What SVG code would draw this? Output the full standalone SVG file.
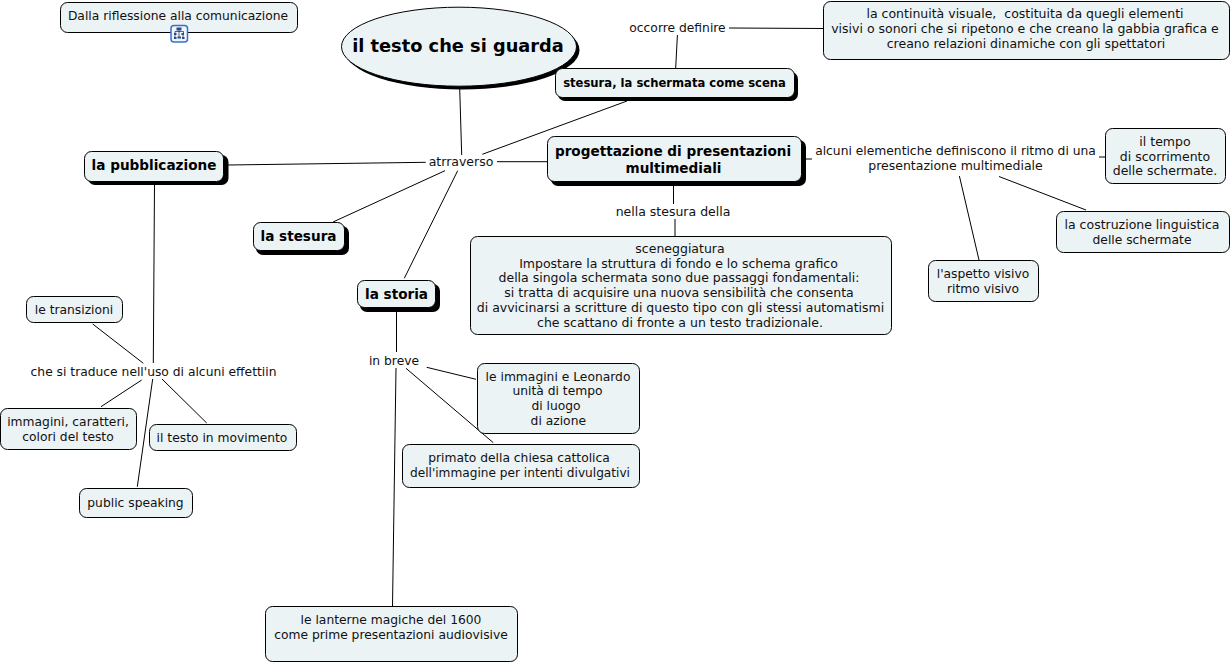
<svg xmlns="http://www.w3.org/2000/svg" width="1230" height="664" viewBox="0 0 1230 664">
<style>
text{font-family:"DejaVu Sans",sans-serif;font-size:12.3px;fill:#111;text-anchor:middle}
.w{font-size:12.5px}
.b{font-weight:bold;font-size:13.6px;fill:#000}
.n{fill:#ecf3f5;stroke:#000;stroke-width:1}
.s{fill:#000;stroke:none}
#c line{stroke:#000;stroke-width:1}
</style>
<rect width="1230" height="664" fill="#fff"/>
<g id="c">
<line x1="459.700" y1="88" x2="461.700" y2="155"/>
<line x1="677.400" y1="35" x2="675.700" y2="68"/>
<line x1="729" y1="28" x2="823" y2="28.500"/>
<line x1="482.300" y1="154.300" x2="627" y2="101"/>
<line x1="228" y1="165" x2="425.700" y2="162.300"/>
<line x1="497" y1="161.700" x2="547" y2="161.700"/>
<line x1="445" y1="170.700" x2="333" y2="222"/>
<line x1="457.700" y1="170.700" x2="404.300" y2="278.300"/>
<line x1="804" y1="159" x2="812" y2="159"/>
<line x1="1099" y1="157" x2="1105" y2="157"/>
<line x1="959.400" y1="176" x2="979" y2="260"/>
<line x1="999" y1="176.500" x2="1086" y2="210"/>
<line x1="673.500" y1="185" x2="673.500" y2="204"/>
<line x1="675" y1="219" x2="675" y2="236"/>
<line x1="154.500" y1="184" x2="153.300" y2="363"/>
<line x1="92.700" y1="324" x2="143.300" y2="363.300"/>
<line x1="141.700" y1="380" x2="101" y2="406.700"/>
<line x1="162" y1="379" x2="206.700" y2="423"/>
<line x1="152.700" y1="379" x2="137.300" y2="486.700"/>
<line x1="396.500" y1="311" x2="396.500" y2="352"/>
<line x1="426.700" y1="367.300" x2="476" y2="379.300"/>
<line x1="406" y1="368.300" x2="493.300" y2="442.700"/>
<line x1="396" y1="368" x2="392.500" y2="606"/>
</g>
<g id="n0"><rect class="n" x="60.500" y="2.500" width="237" height="30" rx="7"/><text x="178" y="20">Dalla riflessione alla comunicazione</text>
<rect x="171" y="25.500" width="16.500" height="16.500" rx="3" fill="#eef5ff" stroke="#3a72c0" stroke-width="1.500"/><path d="M176.500 27.500h5v3h-5zM174 33h2.500v2h-2.500zM181.500 33h2.500v2h-2.500zM177.500 36.500h3.500v2h-3.500zM174 37h2.500v2h-2.500zM182 37h2.500v2h-2.500z" fill="#2a4a90"/><path d="M175 33v-1.500h8.500v1.500M179 30.500v6M175 35v2M183 35v2" fill="none" stroke="#222" stroke-width=".7"/></g>
<g id="root"><ellipse class="s" cx="462" cy="50" rx="117.500" ry="39.500"/><ellipse class="n" cx="459" cy="46.700" rx="117.500" ry="39.500"/><text class="b" x="458" y="52" style="font-size:17.800px">il testo che si guarda</text></g>
<g id="n1"><rect class="s" x="558" y="72" width="240" height="29" rx="7"/><rect class="n" x="555.500" y="68.500" width="239" height="29" rx="7"/><text class="b" x="674.500" y="87" style="font-size:11.600px">stesura, la schermata come scena</text></g>
<text id="l1" x="677.500" y="32">occorre definire</text>
<g id="n2"><rect class="n" x="823.500" y="1.500" width="406" height="58" rx="7"/><text class="w" x="1025" y="18" xml:space="preserve">la continuità visuale,  costituita da quegli elementi</text><text class="w" x="1025" y="33">visivi o sonori che si ripetono e che creano la gabbia grafica e</text><text class="w" x="1026" y="48">creano relazioni dinamiche con gli spettatori</text></g>
<g id="n3"><rect class="s" x="551" y="140" width="255" height="46" rx="7"/><rect class="n" x="547.500" y="136.500" width="254" height="45" rx="7"/><text class="b" x="673" y="156">progettazione di presentazioni</text><text class="b" x="673.500" y="173">multimediali</text></g>
<text id="l2" x="461" y="166" class="w">atrraverso</text>
<g id="n4"><rect class="s" x="88" y="155" width="140.500" height="30" rx="7"/><rect class="n" x="84.500" y="151.500" width="139" height="30" rx="7"/><text class="b" x="154" y="170">la pubblicazione</text></g>
<g id="n5"><rect class="s" x="256" y="226" width="93" height="29" rx="7"/><rect class="n" x="253.500" y="222.500" width="91" height="28" rx="7"/><text class="b" x="298.500" y="241">la stesura</text></g>
<g id="n6"><rect class="s" x="360" y="284" width="80" height="28" rx="7"/><rect class="n" x="357.500" y="280.500" width="78" height="27" rx="7"/><text class="b" x="396.500" y="299">la storia</text></g>
<text id="l3" x="955.500" y="155">alcuni elementiche definiscono il ritmo di una</text><text class="w" x="955.500" y="170">presentazione multimediale</text>
<g id="n7"><rect class="n" x="1105.500" y="128.500" width="120" height="55" rx="7"/><text class="w" x="1165" y="146">il tempo</text><text class="w" x="1165" y="161">di scorrimento</text><text class="w" x="1165" y="175">delle schermate.</text></g>
<g id="n8"><rect class="n" x="1056.500" y="211.500" width="173" height="41" rx="7"/><text class="w" x="1142" y="229">la costruzione linguistica</text><text x="1142" y="244">delle schermate</text></g>
<g id="n9"><rect class="n" x="928.500" y="260.500" width="110" height="41" rx="7"/><text x="983" y="278">l'aspetto visivo</text><text x="983" y="293">ritmo visivo</text></g>
<text id="l4" x="673" y="216" class="w">nella stesura della</text>
<g id="n10"><rect class="n" x="470.500" y="236.500" width="421" height="98" rx="7"/><text class="w" x="680" y="253">sceneggiatura</text><text class="w" x="678.500" y="268">Impostare la struttura di fondo e lo schema grafico</text><text class="w" x="679" y="282">della singola schermata sono due passaggi fondamentali:</text><text class="w" x="679" y="297">si tratta di acquisire una nuova sensibilità che consenta</text><text class="w" x="680.500" y="312">di avvicinarsi a scritture di questo tipo con gli stessi automatismi</text><text class="w" x="680" y="327">che scattano di fronte a un testo tradizionale.</text></g>
<g id="n11"><rect class="n" x="26.500" y="296.500" width="96" height="26" rx="7"/><text x="74" y="314">le transizioni</text></g>
<text id="l5" x="153.500" y="376">che si traduce nell'uso di alcuni effettiin</text>
<g id="n12"><rect class="n" x="0.500" y="408.500" width="136" height="41" rx="7"/><text x="68" y="426">immagini, caratteri,</text><text x="68" y="441">colori del testo</text></g>
<g id="n13"><rect class="n" x="149.500" y="424.500" width="147" height="26" rx="7"/><text x="222" y="442">il testo in movimento</text></g>
<g id="n14"><rect class="n" x="79.500" y="488.500" width="113" height="29" rx="7"/><text x="135.500" y="507">public speaking</text></g>
<text id="l6" x="394" y="365">in breve</text>
<g id="n15"><rect class="n" x="477.500" y="363.500" width="162" height="70" rx="7"/><text x="558" y="381">le immagini e Leonardo</text><text x="557.500" y="395">unità di tempo</text><text x="556" y="410">di luogo</text><text x="558.300" y="425">di azione</text></g>
<g id="n16"><rect class="n" x="402.500" y="444.500" width="237" height="43" rx="7"/><text x="519" y="462">primato della chiesa cattolica</text><text x="520" y="477" style="font-size:12.150px">dell'immagine per intenti divulgativi</text></g>
<g id="n17"><rect class="n" x="265.500" y="606.500" width="252" height="55" rx="7"/><text x="391" y="624">le lanterne magiche del 1600</text><text x="391" y="639">come prime presentazioni audiovisive</text></g>
</svg>
